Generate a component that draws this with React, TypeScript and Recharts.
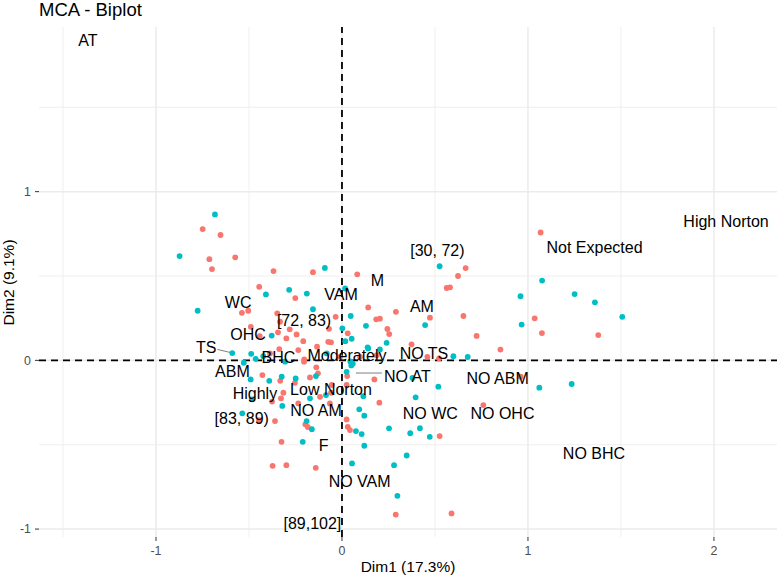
import React from 'react';
import { ScatterChart, Scatter, XAxis, YAxis, ReferenceLine } from 'recharts';

// ---- data ----
const salmonPoints: [number, number][] = [
  [-0.749, 0.778], [-0.653, 0.743], [-0.713, 0.6], [-0.574, 0.611], [-0.699, 0.541],
  [-0.445, 0.436], [-0.538, 0.282], [-0.504, 0.294], [-0.49, 0.199], [-0.368, 0.529],
  [-0.156, 0.523], [0.082, 0.51], [-0.251, 0.369], [-0.348, 0.279], [0.141, 0.314],
  [0.184, 0.243], [-0.333, 0.229], [-0.281, 0.184], [-0.244, 0.154], [-0.208, 0.114],
  [-0.299, 0.13], [-0.344, 0.166], [-0.442, 0.144], [-0.07, 0.187], [-0.074, 0.11],
  [0.031, 0.16], [-0.337, 0.067], [-0.235, 0.061], [-0.134, 0.081], [-0.387, 0.041],
  [-0.203, 0.006], [-0.011, 0.021], [0.097, 0.021], [0.187, 0.031], [0.29, 0.288],
  [0.204, 0.247], [0.473, 0.253], [0.563, 0.429], [0.581, 0.433], [0.624, 0.5],
  [0.665, 0.547], [0.653, 0.263], [0.724, 0.145], [0.852, 0.064], [-0.034, 0.258],
  [0.244, 0.186], [0.254, 0.156], [0.374, 0.095], [-0.059, 0.107], [0.459, 0.021],
  [0.522, 0.012], [1.068, 0.758], [1.036, 0.249], [1.075, 0.162], [1.378, 0.15],
  [0.961, -0.097], [0.174, -0.113], [0.201, -0.251], [0.76, -0.265], [0.525, -0.449],
  [0.289, -0.914], [0.589, -0.907], [-0.428, -0.087], [-0.172, -0.101], [-0.129, -0.077],
  [-0.315, -0.192], [-0.328, -0.225], [-0.376, -0.244], [-0.235, -0.255], [-0.118, -0.216],
  [-0.059, -0.192], [-0.065, -0.255], [0.028, -0.093], [0.025, -0.146], [-0.36, -0.36],
  [-0.197, -0.379], [-0.184, -0.395], [0.025, -0.35], [0.031, -0.394], [0.043, -0.413],
  [-0.325, -0.483], [-0.373, -0.625], [-0.299, -0.621], [-0.141, -0.637], [-0.332, -0.121],
  [-0.253, -0.133], [-0.138, -0.041], [-0.204, -0.008], [-0.446, -0.354], [-0.055, -0.146],
];

const tealPoints: [number, number][] = [
  [-0.683, 0.865], [-0.873, 0.618], [-0.776, 0.294], [-0.59, 0.043], [-0.488, 0.039],
  [-0.464, 0.009], [-0.528, -0.014], [-0.491, -0.113], [-0.092, 0.548], [-0.409, 0.391],
  [-0.284, 0.418], [-0.189, 0.396], [0.017, 0.426], [-0.156, 0.303], [0.047, 0.263],
  [-0.378, 0.147], [0.002, 0.19], [0.018, 0.114], [0.052, 0.128], [0.141, 0.071],
  [-0.423, 0.025], [0.045, -0.006], [0.058, -0.02], [0.05, -0.03], [0.525, 0.558],
  [0.447, 0.209], [0.129, 0.205], [0.24, 0.104], [0.138, 0.077], [-0.082, 0.041],
  [0.204, 0.065], [0.599, 0.025], [0.676, 0.02], [1.076, 0.473], [0.96, 0.38],
  [1.251, 0.393], [1.36, 0.344], [0.966, 0.212], [1.507, 0.258], [1.061, -0.162],
  [1.235, -0.14], [0.379, -0.104], [0.518, -0.156], [0.396, -0.219], [0.253, -0.403],
  [0.367, -0.432], [0.419, -0.402], [0.472, -0.453], [0.348, -0.564], [0.28, -0.621],
  [0.298, -0.803], [-0.324, -0.097], [0.025, -0.068], [-0.321, -0.27], [-0.172, -0.225],
  [-0.086, -0.206], [0.115, -0.212], [-0.19, -0.36], [-0.162, -0.408], [0.093, -0.29],
  [0.12, -0.328], [0.075, -0.419], [0.106, -0.437], [0.12, -0.506], [-0.211, -0.483],
  [0.054, -0.611], [-0.391, -0.121], [-0.249, -0.107], [-0.14, -0.093], [-0.306, -0.008],
  [-0.485, -0.231], [-0.536, -0.314],
];

const labelNames = [
  'AT', 'High Norton', 'Not Expected', '[30, 72)', 'M', 'VAM', 'AM', 'WC', '[72, 83)',
  'OHC', 'TS', 'BHC', 'Moderately', 'NO TS', 'ABM', 'NO AT', 'NO ABM', 'Highly',
  'Low Norton', '[83, 89)', 'NO AM', 'NO WC', 'NO OHC', 'F', 'NO BHC', 'NO VAM', '[89,102]',
];
const labelX = [
  -1.366, 2.065, 1.358, 0.513, 0.19, -0.005, 0.43, -0.558, -0.204,
  -0.505, -0.73, -0.342, 0.027, 0.441, -0.589, 0.352, 0.837, -0.468,
  -0.059, -0.539, -0.14, 0.475, 0.863, -0.099, 1.355, 0.095, -0.159,
];
const labelY = [
  1.9, 0.827, 0.673, 0.654, 0.476, 0.393, 0.322, 0.347, 0.239,
  0.154, 0.075, 0.021, 0.031, 0.041, -0.062, -0.097, -0.107, -0.196,
  -0.172, -0.344, -0.295, -0.314, -0.314, -0.502, -0.551, -0.715, -0.963,
];

// repel connector segments (label -> point)
const tsSegment = [{ x: -0.67, y: 0.065 }, { x: -0.602, y: 0.047 }];
const noAtSegment = [{ x: 0.075, y: -0.075 }, { x: 0.215, y: -0.075 }];

const xTicks = [-1, 0, 1, 2];
const yTicks = [-1, 0, 1];
const xMinorGrid = [-1.5, -0.5, 0.5, 1.5];
const yMinorGrid = [-0.5, 0.5, 1.5];
const xDomain: [number, number] = [-1.629, 2.339];
const yDomain: [number, number] = [-1.047, 1.976];

const salmonData = salmonPoints.map(([x, y]) => ({ x, y }));
const tealData = tealPoints.map(([x, y]) => ({ x, y }));
const labelData = labelNames.map((label, i) => ({ x: labelX[i], y: labelY[i], label }));

const FONT = '"Liberation Sans", Arial, Helvetica, sans-serif';

const dot = (color: string) => (props: any) => {
  const { cx, cy } = props;
  if (cx == null || cy == null) return <g />;
  return <circle cx={cx} cy={cy} r={2.9} fill={color} />;
};

const labelShape = (props: any) => {
  const { cx, cy, payload } = props;
  if (cx == null || cy == null) return <g />;
  return (
    <text x={cx} y={cy} dy="0.36em" textAnchor="middle" fontFamily={FONT} fontSize={16} fill="#000">
      {payload.label}
    </text>
  );
};

export default function App() {
  return (
    <div style={{ position: 'absolute', left: 0, top: 0, width: 777, height: 578, background: '#fff' }}>
      <ScatterChart width={777} height={578} margin={{ top: 27, right: 0, bottom: 0, left: 0 }}>
        <XAxis
          type="number"
          dataKey="x"
          domain={xDomain}
          ticks={xTicks}
          allowDataOverflow
          axisLine={false}
          tickLine={{ stroke: '#333', strokeWidth: 1 }}
          tickSize={4}
          tickMargin={5}
          height={41}
          tick={{ fill: '#4D4D4D', fontSize: 12.4, fontFamily: FONT }}
        />
        <YAxis
          type="number"
          dataKey="y"
          domain={yDomain}
          ticks={yTicks}
          allowDataOverflow
          axisLine={false}
          tickLine={{ stroke: '#333', strokeWidth: 1 }}
          tickSize={4}
          tickMargin={4}
          width={39}
          tick={{ fill: '#4D4D4D', fontSize: 12.4, fontFamily: FONT }}
        />
        {xMinorGrid.map((v) => (
          <ReferenceLine key={'xm' + v} x={v} stroke="#EBEBEB" strokeWidth={0.8} />
        ))}
        {yMinorGrid.map((v) => (
          <ReferenceLine key={'ym' + v} y={v} stroke="#EBEBEB" strokeWidth={0.8} />
        ))}
        {xTicks.map((v) => (
          <ReferenceLine key={'xM' + v} x={v} stroke="#EBEBEB" strokeWidth={1.5} />
        ))}
        {yTicks.map((v) => (
          <ReferenceLine key={'yM' + v} y={v} stroke="#EBEBEB" strokeWidth={1.5} />
        ))}
        <Scatter data={salmonData} shape={dot('#F8766D')} isAnimationActive={false} />
        <Scatter data={tealData} shape={dot('#00BFC4')} isAnimationActive={false} />
        <ReferenceLine x={0} stroke="#000" strokeWidth={1.8} strokeDasharray="7 5" />
        <ReferenceLine y={0} stroke="#000" strokeWidth={1.8} strokeDasharray="7 5" />
        <ReferenceLine segment={tsSegment} stroke="#7F7F7F" strokeWidth={1} />
        <ReferenceLine segment={noAtSegment} stroke="#7F7F7F" strokeWidth={1} />
        <Scatter data={labelData} shape={labelShape} isAnimationActive={false} />
      </ScatterChart>
      <svg
        width={777}
        height={578}
        style={{ position: 'absolute', left: 0, top: 0, pointerEvents: 'none' }}
      >
        <text x={39} y={15.5} fontFamily={FONT} fontSize={18.5} fill="#000">
          MCA - Biplot
        </text>
        <text x={408} y={571.5} textAnchor="middle" fontFamily={FONT} fontSize={15.5} fill="#000">
          Dim1 (17.3%)
        </text>
        <text
          x={14.3}
          y={282.5}
          textAnchor="middle"
          transform="rotate(-90 14.3 282.5)"
          fontFamily={FONT}
          fontSize={15.5}
          fill="#000"
        >
          Dim2 (9.1%)
        </text>
      </svg>
    </div>
  );
}
